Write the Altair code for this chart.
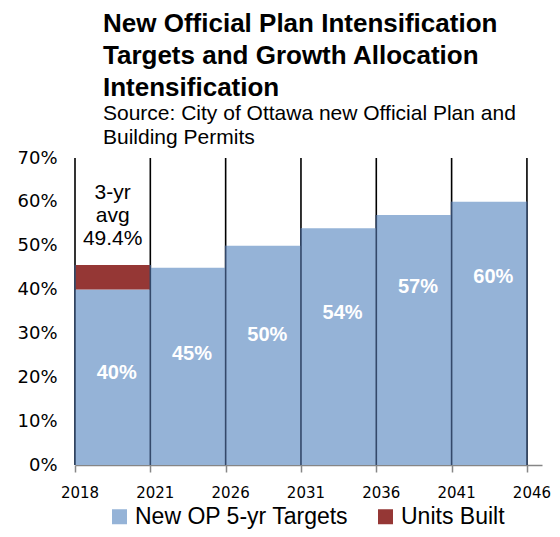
import altair as alt
import pandas as pd

# ---- data ----
years = ["2018", "2021", "2026", "2031", "2036", "2041", "2046"]
targets = [40, 45, 50, 54, 57, 60]              # New OP 5-yr Targets (%)
target_labels = ["40%", "45%", "50%", "54%", "57%", "60%"]
label_y = [21.0, 25.3, 29.6, 34.7, 40.6, 42.9]  # where each label sits (in % units)
units_built_extra = 5.6                          # red segment stacked on first bar
annotation = "3-yr\navg\n49.4%"
annotation_y = 62.0
y_ticks = [0, 10, 20, 30, 40, 50, 60, 70]

S_TGT = "New OP 5-yr Targets"
S_UB = "Units Built"

rows = []
for i, v in enumerate(targets):
    rows.append({"x0": i, "x1": i + 1, "y0": 0, "y1": v, "series": S_TGT})
rows.append({"x0": 0, "x1": 1, "y0": targets[0], "y1": targets[0] + units_built_extra, "series": S_UB})
bars = pd.DataFrame(rows)

tops = [targets[0] + units_built_extra] + targets[1:]
bound_h = []
for i in range(len(years)):
    left = tops[i - 1] if i - 1 >= 0 else 0
    right = tops[i] if i < len(tops) else 0
    bound_h.append(max(left, right))
rules = pd.DataFrame({"x": list(range(len(years))), "top": [70] * len(years),
                      "inner": bound_h, "year": years})

labels = pd.DataFrame({"x": [i + 0.5 for i in range(len(targets))], "y": label_y, "t": target_labels})
ann = pd.DataFrame({"x": [0.5], "y": [annotation_y], "t": [annotation]})

xscale = alt.Scale(domain=[0, 6.2], nice=False, zero=False)
yscale = alt.Scale(domain=[0, 70], nice=False)

xaxis = alt.Axis(values=list(range(len(years))), labels=False, title=None, grid=False,
                 domainColor="#868686", domainWidth=1.5, tickColor="#868686", tickWidth=1.5,
                 tickSize=7)
yaxis = alt.Axis(values=y_ticks, labelExpr="datum.value + '%'", title=None, grid=False,
                 domain=False, ticks=False, labelFont="DejaVu Sans", labelFontSize=18,
                 labelColor="black", labelPadding=18)

black_rules = alt.Chart(rules).mark_rule(color="black", strokeWidth=1.6).encode(
    x=alt.X("x:Q", scale=xscale, axis=xaxis),
    y=alt.Y("top:Q", scale=yscale, axis=yaxis),
    y2=alt.datum(0),
)

bar_layer = alt.Chart(bars).mark_rect().encode(
    x=alt.X("x0:Q", scale=xscale),
    x2="x1:Q",
    y=alt.Y("y0:Q", scale=yscale),
    y2="y1:Q",
    color=alt.Color("series:N",
                    scale=alt.Scale(domain=[S_TGT, S_UB], range=["#95B3D7", "#953735"]),
                    legend=alt.Legend(title=None, orient="none", legendX=33, legendY=347,
                                      direction="horizontal",
                                      symbolType="square", symbolSize=225, symbolStrokeWidth=0,
                                      labelFont="Liberation Sans", labelFontSize=23,
                                      labelColor="black", labelOffset=4, columnPadding=25,
                                      labelLimit=400)),
)

inner_rules = alt.Chart(rules).mark_rule(color="#34496A", strokeWidth=1.6).encode(
    x=alt.X("x:Q", scale=xscale),
    y=alt.Y("inner:Q", scale=yscale),
    y2=alt.datum(0),
)

year_text = alt.Chart(rules).mark_text(font="DejaVu Sans", fontSize=15, color="black",
                                       dx=5, baseline="middle").encode(
    x=alt.X("x:Q", scale=xscale),
    y=alt.value(335),
    text="year:N",
)

bar_text = alt.Chart(labels).mark_text(font="Liberation Sans", fontSize=20, fontWeight="bold",
                                       color="white", dx=4).encode(
    x=alt.X("x:Q", scale=xscale),
    y=alt.Y("y:Q", scale=yscale),
    text="t:N",
)

ann_text = alt.Chart(ann).mark_text(font="Liberation Sans", fontSize=21, color="black",
                                    lineBreak="\n", lineHeight=23, baseline="middle").encode(
    x=alt.X("x:Q", scale=xscale),
    y=alt.Y("y:Q", scale=yscale),
    text="t:N",
)

chart = alt.layer(black_rules, bar_layer, inner_rules, year_text, bar_text, ann_text).properties(
    width=467,
    height=307,
    title=alt.TitleParams(
        text=["New Official Plan Intensification", "Targets and Growth Allocation", "Intensification"],
        subtitle=["Source: City of Ottawa new Official Plan and", "Building Permits"],
        anchor="start", frame="group", dx=28, offset=1,
        font="Liberation Sans", fontSize=26, fontWeight="bold", lineHeight=32, color="black",
        subtitleFont="Liberation Sans", subtitleFontSize=21, subtitleLineHeight=24,
        subtitleColor="black", subtitlePadding=2,
    ),
    autosize=alt.AutoSizeParams(type="none"),
    padding={"left": 67, "top": 150, "right": 10, "bottom": 64},
).configure_view(strokeWidth=0)

chart.save("out.html", embed_options={"renderer": "svg", "actions": False})
